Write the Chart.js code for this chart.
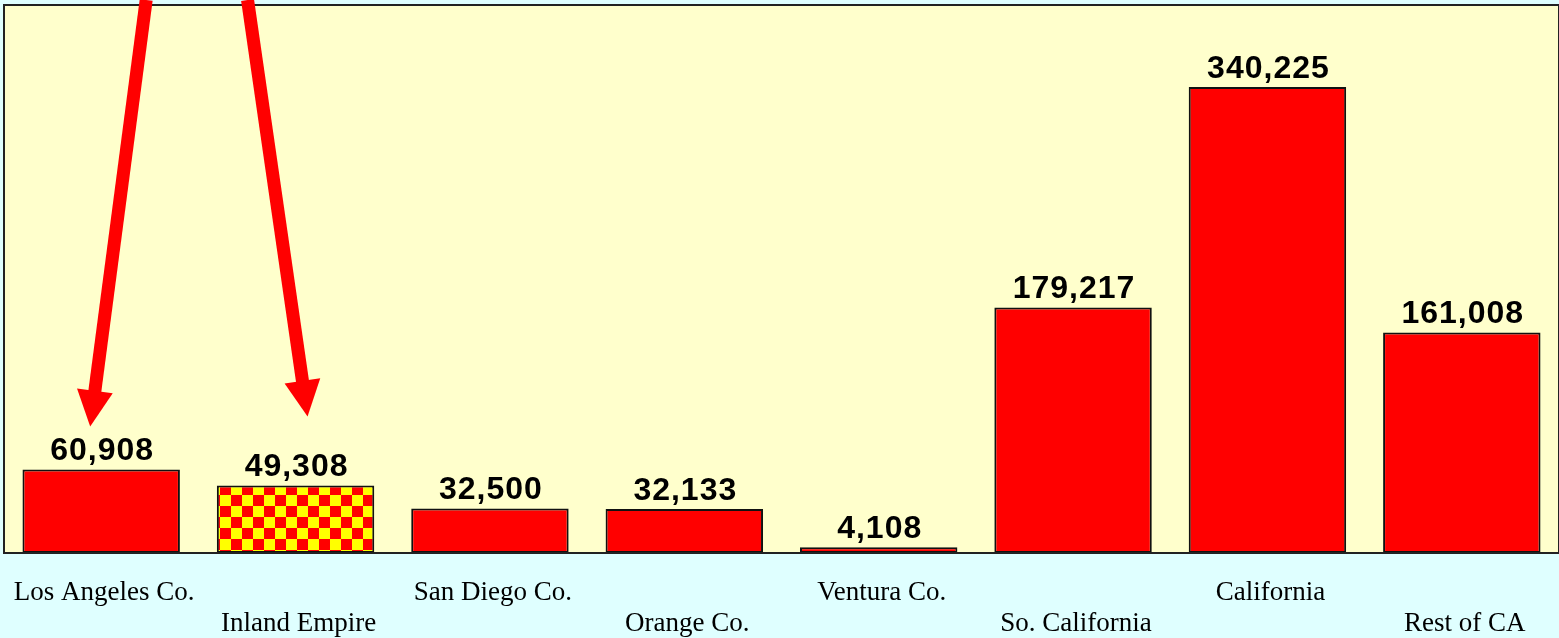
<!DOCTYPE html>
<html>
<head>
<meta charset="utf-8">
<script src="https://cdn.jsdelivr.net/npm/chart.js@4"></script>
<style>
  html, body { margin: 0; padding: 0; background: #dfffff; }
  #wrap { width: 1559px; height: 638px; position: relative; }
</style>
</head>
<body>
<div id="wrap"><canvas id="popChart"></canvas></div>
<script>
// chart data
const categories = ["Los Angeles Co.", "Inland Empire", "San Diego Co.", "Orange Co.",
  "Ventura Co.", "So. California", "California", "Rest of CA"];
const values = [60908, 49308, 32500, 32133, 4108, 179217, 340225, 161008];
const highlighted = [1]; // checkered bar
const arrowTargets = [0, 1];

// checkerboard fill for the highlighted bar
function checkerPattern(size) {
  const c = document.createElement("canvas");
  c.width = size * 2;
  c.height = size * 2;
  const g = c.getContext("2d");
  g.fillStyle = "#ffff00";
  g.fillRect(0, 0, size * 2, size * 2);
  g.fillStyle = "#ff0000";
  g.fillRect(0, 0, size, size);
  g.fillRect(size, size, size, size);
  return g.createPattern(c, "repeat");
}

const ctx = document.getElementById("popChart").getContext("2d");
const checker = checkerPattern(11);
const barColors = values.map((v, i) => (highlighted.includes(i) ? checker : "#ff0000"));

const plotBox = {
  id: "plotBox",
  beforeDraw(chart) {
    const { ctx, chartArea: a } = chart;
    ctx.save();
    ctx.fillStyle = "#ffffcc";
    ctx.fillRect(a.left, a.top, a.right - a.left, a.bottom - a.top);
    ctx.restore();
  },
  afterDatasetsDraw(chart) {
    const { ctx, chartArea: a } = chart;
    ctx.save();
    ctx.strokeStyle = "#222";
    ctx.lineWidth = 2;
    ctx.strokeRect(a.left, a.top, a.right - a.left, a.bottom - a.top);
    ctx.restore();
  },
};

// category names under the plot, staggered on two rows
const categoryLabels = {
  id: "categoryLabels",
  afterDraw(chart) {
    const { ctx, chartArea: a } = chart;
    const xs = chart.scales.x;
    ctx.save();
    ctx.font = "27px 'Liberation Serif', 'Times New Roman', serif";
    ctx.fillStyle = "#000";
    ctx.textAlign = "center";
    ctx.textBaseline = "middle";
    categories.forEach((c, i) => {
      const y = a.bottom + (i % 2 === 0 ? 40 : 71);
      ctx.fillText(c, xs.getPixelForValue(i) + 3, y);
    });
    ctx.restore();
  },
};

const valueLabels = {
  id: "valueLabels",
  afterDatasetsDraw(chart) {
    const { ctx } = chart;
    const meta = chart.getDatasetMeta(0);
    ctx.save();
    ctx.font = "bold 32px 'Liberation Sans', Arial, sans-serif";
    ctx.letterSpacing = "1px";
    ctx.fillStyle = "#000";
    ctx.textAlign = "center";
    ctx.textBaseline = "bottom";
    meta.data.forEach((bar, i) => {
      ctx.fillText(values[i].toLocaleString("en-US"), bar.x + 1, bar.y - 2);
    });
    ctx.restore();
  },
};

// red arrows pointing at the first two bars
const arrows = {
  id: "arrows",
  afterDraw(chart) {
    const { ctx } = chart;
    const meta = chart.getDatasetMeta(0);
    const specs = [
      { startDx: 45, tipDx: -11, tipDy: -43 },
      { startDx: -48, tipDx: 12, tipDy: -69 },
    ];
    ctx.save();
    ctx.strokeStyle = "#ff0000";
    ctx.fillStyle = "#ff0000";
    arrowTargets.forEach((idx, k) => {
      const bar = meta.data[idx];
      const s = specs[k];
      const x0 = bar.x + s.startDx, y0 = 0;
      const x1 = bar.x + s.tipDx, y1 = bar.y + s.tipDy;
      const ang = Math.atan2(y1 - y0, x1 - x0);
      const headLen = 36, headHalf = 18;
      const bx = x1 - headLen * Math.cos(ang);
      const by = y1 - headLen * Math.sin(ang);
      ctx.lineWidth = 13;
      ctx.beginPath();
      ctx.moveTo(x0, y0);
      ctx.lineTo(bx + 2 * Math.cos(ang), by + 2 * Math.sin(ang));
      ctx.stroke();
      ctx.beginPath();
      ctx.moveTo(x1, y1);
      ctx.lineTo(bx + headHalf * Math.sin(ang), by - headHalf * Math.cos(ang));
      ctx.lineTo(bx - headHalf * Math.sin(ang), by + headHalf * Math.cos(ang));
      ctx.closePath();
      ctx.fill();
    });
    ctx.restore();
  },
};

new Chart(ctx, {
  type: "bar",
  data: {
    labels: categories,
    datasets: [
      {
        data: values,
        backgroundColor: barColors,
        borderColor: "#111",
        borderWidth: 2,
        borderSkipped: false,
        categoryPercentage: 1,
        barPercentage: 0.81,
      },
    ],
  },
  options: {
    responsive: true,
    maintainAspectRatio: false,
    animation: false,
    layout: { padding: { left: 4, right: 0, top: 5, bottom: 85 } },
    plugins: {
      legend: { display: false },
      tooltip: { enabled: false },
    },
    scales: {
      x: { display: false },
      y: {
        display: false,
        min: 0,
        max: 400000,
      },
    },
  },
  plugins: [plotBox, categoryLabels, valueLabels, arrows],
});
</script>
</body>
</html>
